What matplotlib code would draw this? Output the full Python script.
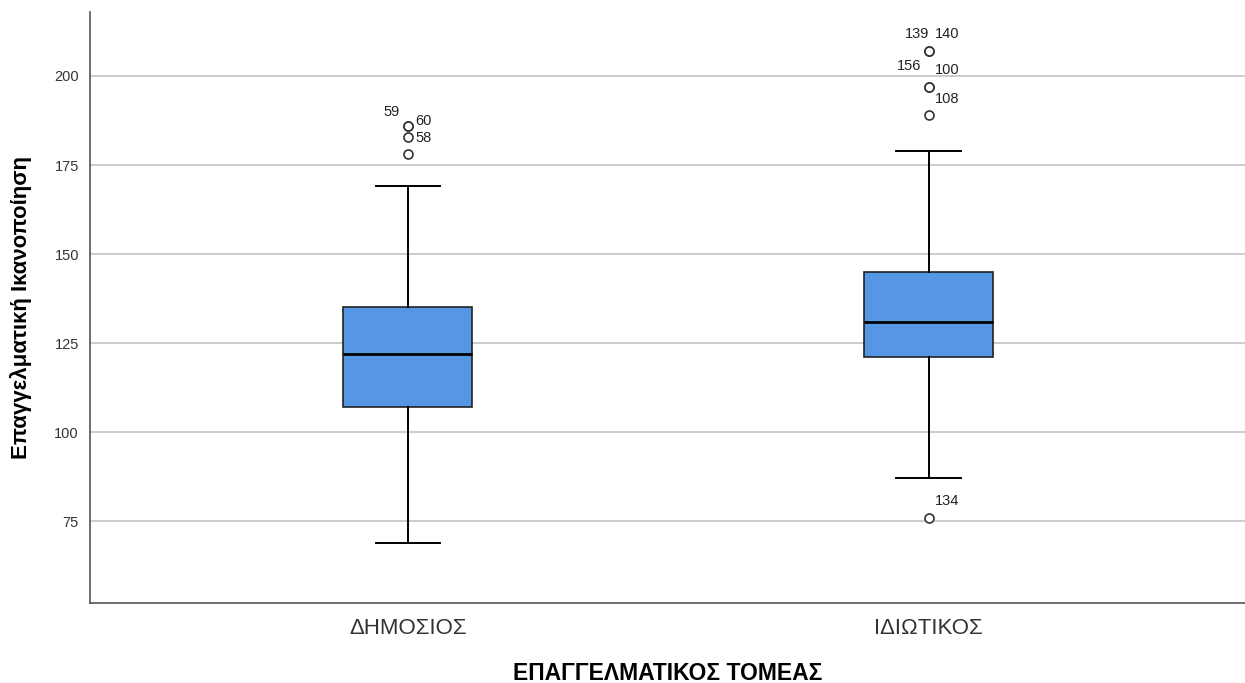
import matplotlib
matplotlib.use("Agg")
import matplotlib.pyplot as plt

plt.rcParams['font.family'] = ['Liberation Sans', 'DejaVu Sans']

categories = ["ΔΗΜΟΣΙΟΣ", "ΙΔΙΩΤΙΚΟΣ"]
whislo = [69, 87]
q1 = [107, 121]
med = [122, 131]
q3 = [135, 145]
whishi = [169, 179]

# outliers: (category index, value, label)
outlier_cat = [0, 0, 0, 0, 1, 1, 1, 1, 1, 1]
outlier_val = [186, 186, 183, 178, 207, 207, 197, 197, 189, 76]
outlier_lab = ["59", "", "60", "58", "139", "140", "156", "100", "108", "134"]
# label offsets in pixels (dx, dy)
lab_off = [(-16, 14), (0, 0), (16, 16), (16, 16), (-12, 17), (18, 17),
           (-20, 21), (18, 17), (18, 16), (18, 17)]

fig = plt.figure(figsize=(12.45, 6.83), dpi=100)
ax = fig.add_axes([0.0723, 0.117, 0.9277, 0.8656])

stats = []
for i in range(len(categories)):
    stats.append(dict(whislo=whislo[i], q1=q1[i], med=med[i], q3=q3[i],
                      whishi=whishi[i], fliers=[]))

ax.bxp(stats, positions=range(len(categories)), widths=0.248,
       patch_artist=True, showfliers=False,
       boxprops=dict(facecolor="#5596e5", edgecolor="#222222", linewidth=1.2),
       medianprops=dict(color="black", linewidth=2),
       whiskerprops=dict(color="black", linewidth=1.4),
       capprops=dict(color="black", linewidth=1.4))

ax.scatter(outlier_cat, outlier_val, s=42, facecolors="white",
           edgecolors="#333333", linewidths=1.2, zorder=5)
for c, v, lab, off in zip(outlier_cat, outlier_val, outlier_lab, lab_off):
    if lab:
        ax.annotate(lab, (c, v), xytext=off, textcoords="offset pixels",
                    ha="center", va="center", fontsize=10.5, color="#222222")

ax.set_xlim(-0.61, 1.607)
ax.set_ylim(52, 218)
ax.set_yticks([75, 100, 125, 150, 175, 200])
ax.set_xticks(range(len(categories)))
ax.set_xticklabels(categories, fontsize=16, color="#333333")
ax.tick_params(axis="y", labelsize=10.5, colors="#333333", length=0, pad=8)
ax.tick_params(axis="x", length=0, pad=11)
ax.grid(axis="y", color="#c8c8c8", linewidth=1.3)
ax.set_axisbelow(True)

for s in ["top", "right"]:
    ax.spines[s].set_visible(False)
for s in ["left", "bottom"]:
    ax.spines[s].set_color("#555555")
    ax.spines[s].set_linewidth(1.2)

ax.set_ylabel("Επαγγελματική Ικανοποίηση", fontsize=16, fontweight="bold",
              labelpad=16)
ax.set_xlabel("ΕΠΑΓΓΕΛΜΑΤΙΚΟΣ ΤΟΜΕΑΣ", fontsize=16.5, fontweight="bold",
              labelpad=16)

fig.savefig("out.png", dpi=100)
